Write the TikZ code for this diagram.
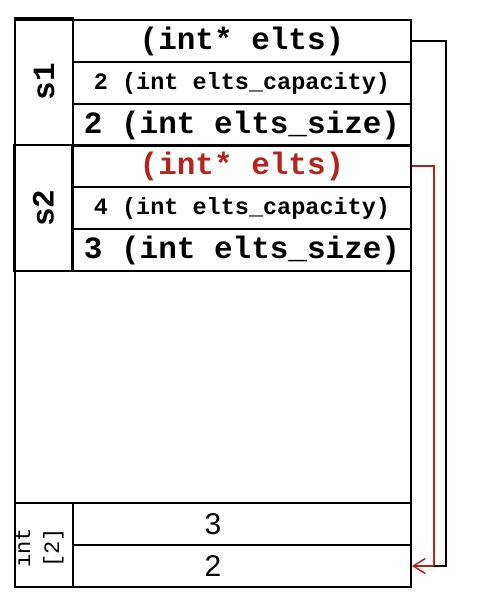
\documentclass[tikz,border=0pt]{standalone}
\usepackage{fontspec}
\usepackage{xcolor}
\usetikzlibrary{arrows.meta}
\newfontfamily\codefont{Liberation Mono}
\newfontfamily\numfont{Liberation Sans}
\definecolor{ptrred}{RGB}{178,36,28}

\begin{document}
\begin{tikzpicture}[x=1pt,y=-1pt,
    cell/.style={draw, line width=1.8pt, minimum width=338pt, minimum height=42pt, inner sep=0pt, font=\codefont\bfseries\fontsize{31}{31}\selectfont},
    small/.style={font=\codefont\bfseries\fontsize{23.5}{23.5}\selectfont},
    side/.style={draw, line width=2.4pt, minimum height=58pt, inner sep=0pt, rotate=90, font=\codefont\bfseries\fontsize{31}{31}\selectfont},
    num/.style={font=\numfont\fontsize{30}{30}\selectfont}]
      \useasboundingbox (0,0) rectangle (476,612);
      \node [draw, line width=1.8pt, minimum width=396pt, minimum height=567pt, inner sep=0pt] (mem) at (213,303.5) {};
      % s1
      \node [side, minimum width=127pt] (s1) at (44,81.5) {s1};
      \node [cell] (e1) at (242,41) {(int* elts)};
      \node [cell, small] (c1) at (242,83) {2 (int elts\_capacity)};
      \node [cell] (z1) at (242,125) {2 (int elts\_size)};
      % s2
      \node [side, minimum width=126pt] (s2) at (43.5,208) {s2};
      \node [cell, text=ptrred] (e2) at (242,166) {(int* elts)};
      \node [cell, small] (c2) at (242,208) {4 (int elts\_capacity)};
      \node [cell] (z2) at (242,250) {3 (int elts\_size)};
      % int[2]
      \node [side, minimum width=84pt] (arr) at (44,545) {};
      \begin{scope}
        \clip (arr.south west) rectangle (arr.north east);
        \node [rotate=90, align=center, font=\codefont\fontsize{22}{29}\selectfont] (arrname) at (39,548) {int\\{[2]}};
      \end{scope}
      \node [cell] (v1) at (242,524) {};
      \node [cell] (v2) at (242,566) {};
      \node [num] (n1) at (mem.center |- v1.center) {3};
      \node [num] (n2) at (mem.center |- v2.center) {2};
      % pointers
      \draw [ptrred, line width=1.5pt, -{Straight Barb[length=12pt,width=15pt]}] (e2.east) -- ++(22,0) coordinate (rbend) |- (v2.east);
      \draw [line width=1.8pt] (e1.east) -- ++(34,0) |- (rbend |- v2.east);
    \end{tikzpicture}
\end{document}
